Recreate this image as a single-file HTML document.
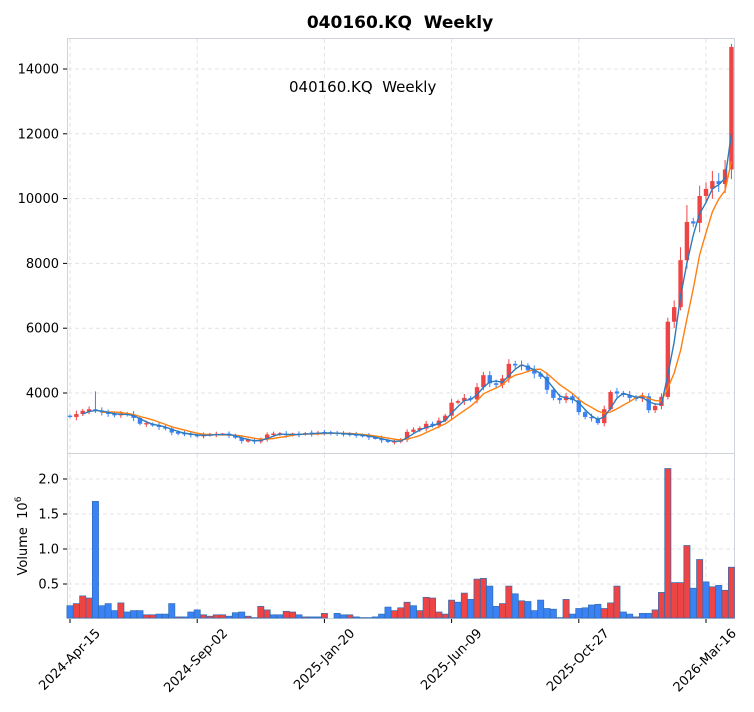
<!DOCTYPE html>
<html><head><meta charset="utf-8"><style>
html,body{margin:0;padding:0;background:#fff;}
svg{display:block;font-family:"DejaVu Sans","Liberation Sans",sans-serif;}
text{white-space:pre;}
</style></head><body>
<svg id="s" width="754" height="712" xmlns="http://www.w3.org/2000/svg"></svg>
<script>
const closes=[3260,3350,3450,3480,3460,3400,3350,3330,3350,3340,3230,3050,3050,3000,2950,2900,2780,2760,2740,2700,2680,2700,2720,2720,2730,2700,2620,2520,2550,2500,2560,2720,2730,2740,2700,2730,2720,2760,2740,2780,2770,2760,2750,2730,2720,2700,2680,2630,2600,2540,2490,2500,2560,2800,2870,2900,3050,3000,3150,3300,3700,3750,3850,3800,4180,4550,4300,4250,4450,4900,4850,4850,4700,
4600,4500,4100,3850,3780,3900,3780,3410,3260,3220,3070,3500,4030,4000,3940,3850,3830,3900,3470,3600,3880,6200,6650,8100,9280,9250,10080,10300,10540,10450,10900,14680];
const vols=[[.19,'b'],[.22,'r'],[.33,'r'],[.30,'r'],[1.68,'b'],[.19,'b'],[.22,'b'],[.12,'b'],[.23,'r'],[.10,'b'],[.12,'b'],[.12,'b'],[.06,'r'],[.06,'r'],[.07,'b'],[.07,'b'],[.22,'b'],[.03,'r'],[.03,'b'],[.10,'b'],[.13,'b'],[.06,'r'],[.04,'r'],[.06,'r'],[.06,'r'],[.04,'b'],[.09,'b'],[.10,'b'],[.04,'r'],[.02,'b'],[.18,'r'],[.13,'r'],[.06,'b'],[.06,'b'],[.11,'r'],[.10,'r'],[.06,'b'],[.03,'r'],[.03,'b'],[.03,'b'],[.08,'r'],[.005,'b'],[.08,'b'],[.06,'b'],[.06,'r'],[.03,'b'],[.02,'b'],[.02,'b'],[.03,'b'],[.07,'b'],[.17,'b'],[.12,'r'],
[.16,'r'],[.24,'r'],[.19,'b'],[.12,'r'],[.31,'r'],[.30,'r'],[.10,'r'],[.07,'r'],[.27,'r'],[.24,'b'],[.37,'r'],[.28,'b'],[.57,'r'],[.58,'r'],[.47,'b'],[.18,'b'],[.22,'r'],[.47,'r'],[.36,'b'],[.26,'r'],[.25,'b'],[.12,'b'],[.27,'b'],[.15,'b'],[.14,'b'],[.02,'b'],[.28,'r'],[.07,'b'],[.15,'b'],[.16,'b'],[.20,'b'],[.21,'b'],[.15,'r'],[.23,'r'],[.47,'r'],[.10,'b'],[.07,'b'],[.03,'r'],[.08,'b'],[.08,'b'],[.13,'r'],[.38,'r'],[2.15,'r'],[.52,'r'],[.52,'r'],[1.05,'r'],[.44,'b'],[.85,'r'],[.53,'b'],[.46,'r'],[.48,'b'],[.41,'r'],[.74,'r']];
const RED='#ef4444',BLUE='#3b82f6';
const X=i=>70+6.36*i;
const Y=p=>393-(p-4000)*0.0324;
const VY=v=>619-v*70;
let h='';
h+=`<text x="400" y="28" text-anchor="middle" font-size="17" font-weight="bold" xml:space="preserve">040160.KQ  Weekly</text>`;
h+=`<rect x="67.5" y="38.5" width="667" height="415" fill="none" stroke="#cfd3da"/>`;
h+=`<rect x="67.5" y="453.5" width="667" height="165" fill="none" stroke="#cfd3da"/>`;
const xt=[[0,'2024-Apr-15'],[20,'2024-Sep-02'],[40,'2025-Jan-20'],[60,'2025-Jun-09'],[80,'2025-Oct-27'],[100,'2026-Mar-16']];
for(const [i] of xt){const x=X(i);h+=`<line x1="${x}" y1="39" x2="${x}" y2="453" stroke="#e3e3e3" stroke-dasharray="4,3"/><line x1="${x}" y1="454" x2="${x}" y2="618" stroke="#e3e3e3" stroke-dasharray="4,3"/>`;}
for(const p of [4000,6000,8000,10000,12000,14000]){const y=Y(p);h+=`<line x1="68" y1="${y}" x2="734" y2="${y}" stroke="#e3e3e3" stroke-dasharray="4,3"/><line x1="63" y1="${y}" x2="67" y2="${y}" stroke="#000"/><text x="59" y="${y+4.5}" text-anchor="end" font-size="13">${p}</text>`;}
for(const v of [0.5,1.0,1.5,2.0]){const y=VY(v);h+=`<line x1="68" y1="${y}" x2="734" y2="${y}" stroke="#e3e3e3" stroke-dasharray="4,3"/><line x1="63" y1="${y}" x2="67" y2="${y}" stroke="#000"/><text x="59" y="${y+4.5}" text-anchor="end" font-size="13">${v.toFixed(1)}</text>`;}
for(const [i,l] of xt){const x=X(i);h+=`<line x1="${x}" y1="619" x2="${x}" y2="623" stroke="#000"/><text transform="translate(${x+31},634) rotate(-45)" text-anchor="end" font-size="13">${l}</text>`;}
h+=`<text transform="translate(27,536) rotate(-90)" text-anchor="middle" font-size="13" xml:space="preserve">Volume  10<tspan font-size="9" dy="-6">6</tspan></text>`;
h+=`<text x="289" y="92" font-size="15" xml:space="preserve">040160.KQ  Weekly</text>`;
for(let i=0;i<closes.length;i++){
 const c=closes[i],o=i?closes[i-1]:3300;
 const up=c>=o,col=up?RED:BLUE;
 const w=0.012+0.02*Math.abs(Math.sin(i*1.7));
 let hi=Math.max(o,c)*(1+w),lo=Math.min(o,c)*(1-w);
 if(i==4)hi=4050; if(i==104)hi=14780; if(i==96)hi=8500; if(i==97)hi=9800;
 const x=X(i);
 h+=`<line x1="${x}" y1="${Y(hi)}" x2="${x}" y2="${Y(lo)}" stroke="${col}" stroke-width="1"/>`;
 let yt=Y(Math.max(o,c)),yb=Y(Math.min(o,c));if(yb-yt<1.2){yt-=0.6;yb+=0.6;}
 h+=`<rect x="${x-2.2}" y="${yt}" width="4.4" height="${yb-yt}" fill="${col}"/>`;
}
function ma(n){const r=[];for(let i=n-1;i<closes.length;i++){let s=0;for(let k=0;k<n;k++)s+=closes[i-k];r.push([X(i),Y(s/n)]);}return r;}
function path(pts){return 'M'+pts.map(p=>p[0].toFixed(1)+','+p[1].toFixed(1)).join('L');}
h+=`<path d="${path(ma(6))}" fill="none" stroke="#ff7f0e" stroke-width="1.4"/>`;
h+=`<path d="${path(ma(3))}" fill="none" stroke="#2b7bbd" stroke-width="1.4"/>`;
for(let i=0;i<vols.length;i++){const [v,c]=vols[i];const x=X(i),y=VY(v);
 h+=`<rect x="${x-3.1}" y="${y}" width="6.2" height="${618-y}" fill="${c=='r'?RED:BLUE}" stroke="#2f6db5" stroke-width="0.7"/>`;}
document.getElementById('s').innerHTML=h;
</script>
</body></html>
